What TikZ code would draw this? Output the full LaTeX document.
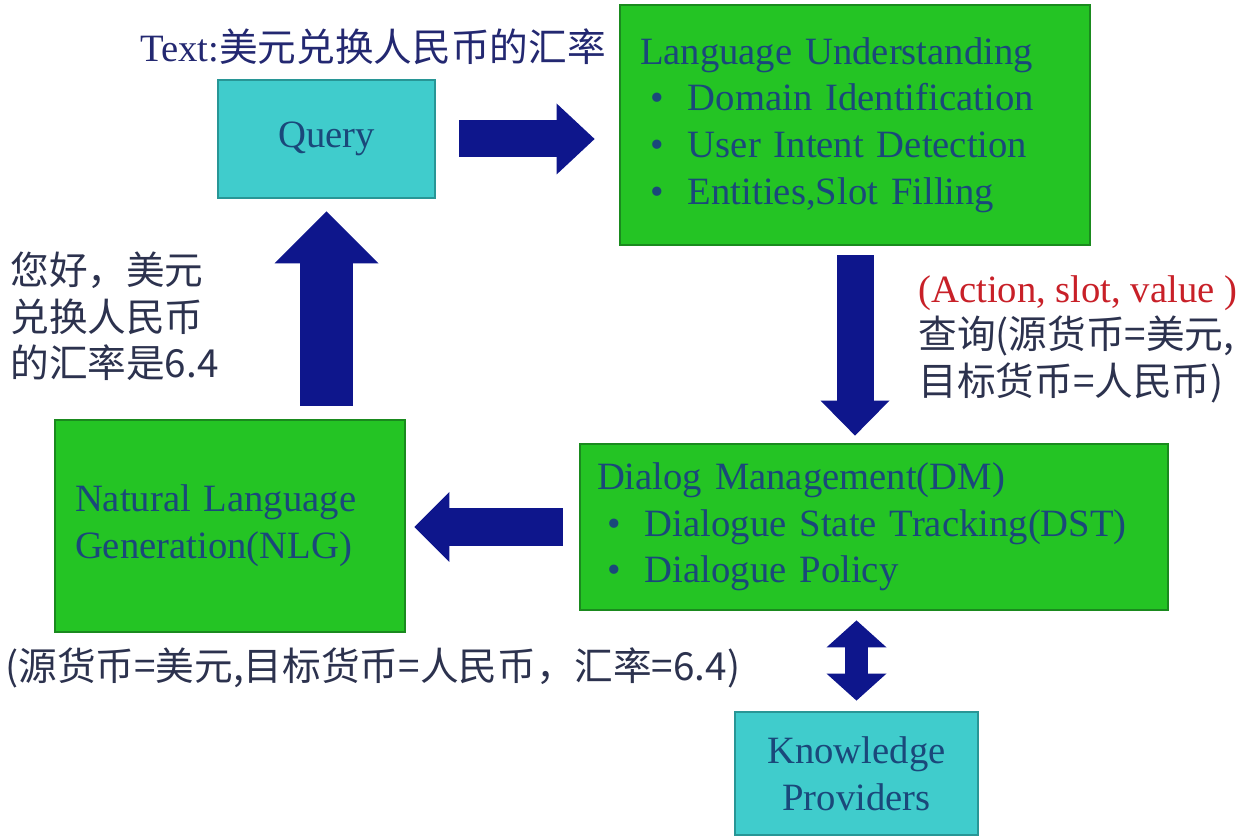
\documentclass[tikz,border=0pt]{standalone}
\usepackage{fontspec}
\setmainfont{Liberation Serif}
\newfontfamily\cjk{Noto Sans CJK SC}
\usetikzlibrary{arrows.meta}

\definecolor{arrowblue}{RGB}{14,22,140}
\definecolor{greenfill}{RGB}{36,196,36}
\definecolor{greenline}{RGB}{26,138,30}
\definecolor{cyanfill}{RGB}{64,204,204}
\definecolor{cyanline}{RGB}{40,150,150}
\definecolor{boxtext}{RGB}{26,72,122}
\definecolor{notetext}{RGB}{44,50,78}
\definecolor{slotred}{RGB}{200,32,40}

\newcommand{\itm}[1]{\hspace*{0.2cm}\makebox[0.76cm][l]{\textbullet}#1}

\tikzset{
  box/.style={draw, line width=1.6pt, font=\fontsize{22}{26.6}\selectfont, text=boxtext, inner ysep=0pt},
  greenbox/.style={box, fill=greenfill, draw=greenline, align=left, inner xsep=0.4cm},
  cyanbox/.style={box, fill=cyanfill, draw=cyanline, align=center},
  note/.style={font=\cjk\fontsize{22}{26.4}\selectfont, text=notetext, inner sep=0pt, align=left},
  blockarrow/.style n args={3}{draw=arrowblue, line width=#1,
    -{Triangle[length=#2, width=#3, line width=0pt]}},
  twoway/.style n args={3}{draw=arrowblue, line width=#1,
    {Triangle[length=#2, width=#3, line width=0pt]}-{Triangle[length=#2, width=#3, line width=0pt]}}
}

\begin{document}
\begin{tikzpicture}
  \useasboundingbox[fill=white] (0,0) rectangle (24.96,16.8);

  % boxes
  \node[cyanbox, minimum width=4.34cm, minimum height=2.36cm] (q) at (6.53,14.02) {\raisebox{-0.12cm}{Query}};
  \node[greenbox, text width=8.6cm, minimum height=4.8cm] (lu) at (17.1,14.3)
    {Language Understanding\\ \itm{Domain Identification}\\ \itm{User Intent Detection}\\ \itm{Entities,Slot Filling}};
  \node[greenbox, inner xsep=0.34cm, text width=11.08cm, minimum height=3.32cm] (dm) at (17.48,6.26)
    {Dialog Management(DM)\\ \itm{Dialogue State Tracking(DST)}\\ \itm{Dialogue Policy}};
  \node[greenbox, text width=6.2cm, minimum height=4.24cm] (nlg) at (4.6,6.28)
    {Natural Language\\ Generation(NLG)};
  \node[cyanbox, minimum width=4.86cm, minimum height=2.46cm] (kp) at (17.13,1.33)
    {Knowledge\\ Providers};

  % texts
  \node[note, text=notetext!80!blue] (qtext) at (7.46,15.86) {{\rmfamily Text:}美元兑换人民币的汇率};
  \node[note, anchor=west] (reply) at (0.2,10.47) {您好，美元\\兑换人民币\\的汇率是6.4};
  \node[note, anchor=west] (slots) at (18.36,10.02)
    {{\rmfamily\color{slotred}(Action, slot, value )}\\查询(源货币=美元,\\目标货币=人民币)};
  \node[note, anchor=west] (facts) at (0.1,3.44) {(源货币=美元,目标货币=人民币，汇率=6.4)};

  % arrows
  \draw[blockarrow={0.74cm}{0.76cm}{1.42cm}, shorten <=0.46cm, shorten >=0.48cm] (q.east) -- (q.east -| lu.west);
  \draw[blockarrow={0.74cm}{0.7cm}{1.38cm}, shorten <=0.18cm, shorten >=0.14cm] (lu.south) -- (lu.south |- dm.north);
  \draw[blockarrow={0.76cm}{0.7cm}{1.4cm}, shorten <=0.32cm, shorten >=0.16cm] (dm.west) -- (dm.west -| nlg.east);
  \draw[blockarrow={1.06cm}{1.04cm}{2.08cm}, shorten <=0.26cm, shorten >=0.24cm] (nlg.north -| q.south) -- (q.south);
  \draw[twoway={0.46cm}{0.54cm}{1.2cm}, shorten <=0.18cm, shorten >=0.2cm] (dm.south -| kp.north) -- (kp.north);
\end{tikzpicture}
\end{document}
